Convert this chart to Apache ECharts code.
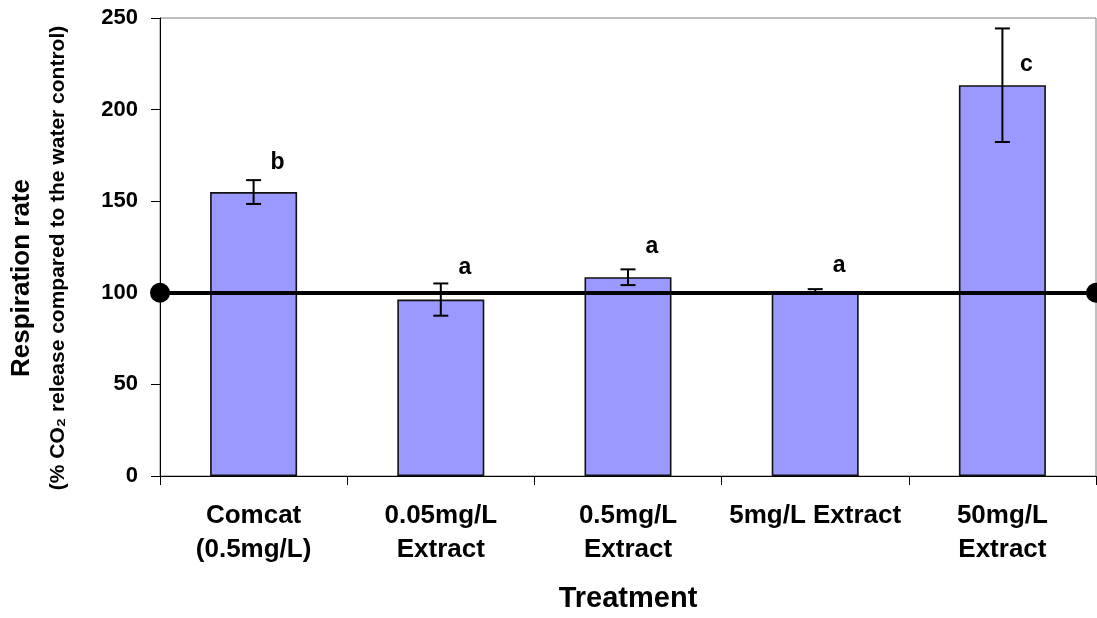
<!DOCTYPE html>
<html>
<head>
<meta charset="utf-8">
<script src="https://cdn.jsdelivr.net/npm/echarts@6/dist/echarts.min.js"></script>
<style>
html,body{margin:0;padding:0;background:#fff;}
#chart{width:1097px;height:618px;}
</style>
</head>
<body>
<div id="chart"></div>
<script>
// ---- data ----
const categories = ['Comcat\n(0.5mg/L)', '0.05mg/L\nExtract', '0.5mg/L\nExtract', '5mg/L Extract', '50mg/L\nExtract'];
const means = [155, 96.3, 108.5, 101, 213.3];
const errors = [6.5, 8.8, 4.3, 1, 31];
const letters = ['b', 'a', 'a', 'a', 'c'];
const letterHeights = [171.3, 113.9, 125.4, 114.6, 224.5];
const controlLevel = 100;
const yTicks = [0, 50, 100, 150, 200, 250];

const FONT = "'Liberation Sans', Arial, sans-serif";

const chart = echarts.init(document.getElementById('chart'), null, {renderer: 'canvas'});

const errData = categories.map((c, i) => [i, means[i] - errors[i], means[i] + errors[i]]);

chart.setOption({
  animation: false,
  backgroundColor: '#ffffff',
  grid: {
    left: 160, right: 1, top: 18, bottom: 139,
    show: true, borderColor: '#808080', borderWidth: 1, backgroundColor: 'transparent'
  },
  xAxis: {
    type: 'category',
    data: categories,
    boundaryGap: true,
    axisLine: {lineStyle: {color: '#000', width: 1}},
    axisTick: {show: true, length: 9, lineStyle: {color: '#000'}},
    axisLabel: {
      interval: 0, margin: 23, color: '#000', fontFamily: FONT, fontWeight: 'bold',
      fontSize: 26, lineHeight: 34
    },
    name: 'Treatment',
    nameLocation: 'middle',
    nameGap: 108,
    nameTextStyle: {color: '#000', fontFamily: FONT, fontWeight: 'bold', fontSize: 29}
  },
  yAxis: {
    type: 'value',
    min: yTicks[0], max: yTicks[yTicks.length - 1], interval: yTicks[1] - yTicks[0],
    splitLine: {show: false},
    axisLine: {show: true, lineStyle: {color: '#000', width: 1}},
    axisTick: {show: true, length: 9, lineStyle: {color: '#000'}},
    axisLabel: {margin: 22, color: '#000', fontFamily: FONT, fontWeight: 'bold', fontSize: 22},
    name: '{l1|Respiration rate}\n{l2|(% CO\u2082 release compared to the water control)}',
    nameLocation: 'middle',
    nameRotate: 90,
    nameGap: 84,
    nameTextStyle: {
      color: '#000', fontFamily: FONT, fontWeight: 'bold',
      rich: {
        l1: {fontSize: 26, lineHeight: 36, fontFamily: FONT, fontWeight: 'bold', color: '#000', padding: [0, 62, 0, 0]},
        l2: {fontSize: 21, lineHeight: 36, fontFamily: FONT, fontWeight: 'bold', color: '#000', padding: [0, 22, 0, 0]}
      }
    }
  },
  series: [
    {
      type: 'bar',
      data: means,
      barWidth: 87,
      itemStyle: {color: '#9999FF', borderColor: '#111', borderWidth: 1.6},
      markLine: {
        silent: true,
        symbol: ['circle', 'circle'],
        symbolSize: 20,
        label: {show: false},
        lineStyle: {color: '#000', width: 4, type: 'solid'},
        itemStyle: {color: '#000'},
        data: [{yAxis: controlLevel}],
        z: 10
      }
    },
    {
      type: 'custom',
      data: errData,
      z: 5,
      renderItem: function (params, api) {
        const i = api.value(0);
        const lo = api.coord([i, api.value(1)]);
        const hi = api.coord([i, api.value(2)]);
        const cap = 7.5;
        const st = {stroke: '#000', lineWidth: 2};
        return {
          type: 'group',
          children: [
            {type: 'line', shape: {x1: hi[0], y1: hi[1], x2: lo[0], y2: lo[1]}, style: st},
            {type: 'line', shape: {x1: hi[0] - cap, y1: hi[1], x2: hi[0] + cap, y2: hi[1]}, style: st},
            {type: 'line', shape: {x1: lo[0] - cap, y1: lo[1], x2: lo[0] + cap, y2: lo[1]}, style: st}
          ]
        };
      }
    },
    {
      type: 'scatter',
      data: letterHeights,
      symbolSize: 1,
      itemStyle: {color: 'rgba(0,0,0,0)'},
      label: {
        show: true, position: 'inside', offset: [24, 0],
        formatter: p => letters[p.dataIndex],
        color: '#000', textBorderWidth: 0, opacity: 1,
        fontFamily: FONT, fontWeight: 'bold', fontSize: 23
      },
      emphasis: {disabled: true},
      z: 6
    }
  ]
});
</script>
</body>
</html>
